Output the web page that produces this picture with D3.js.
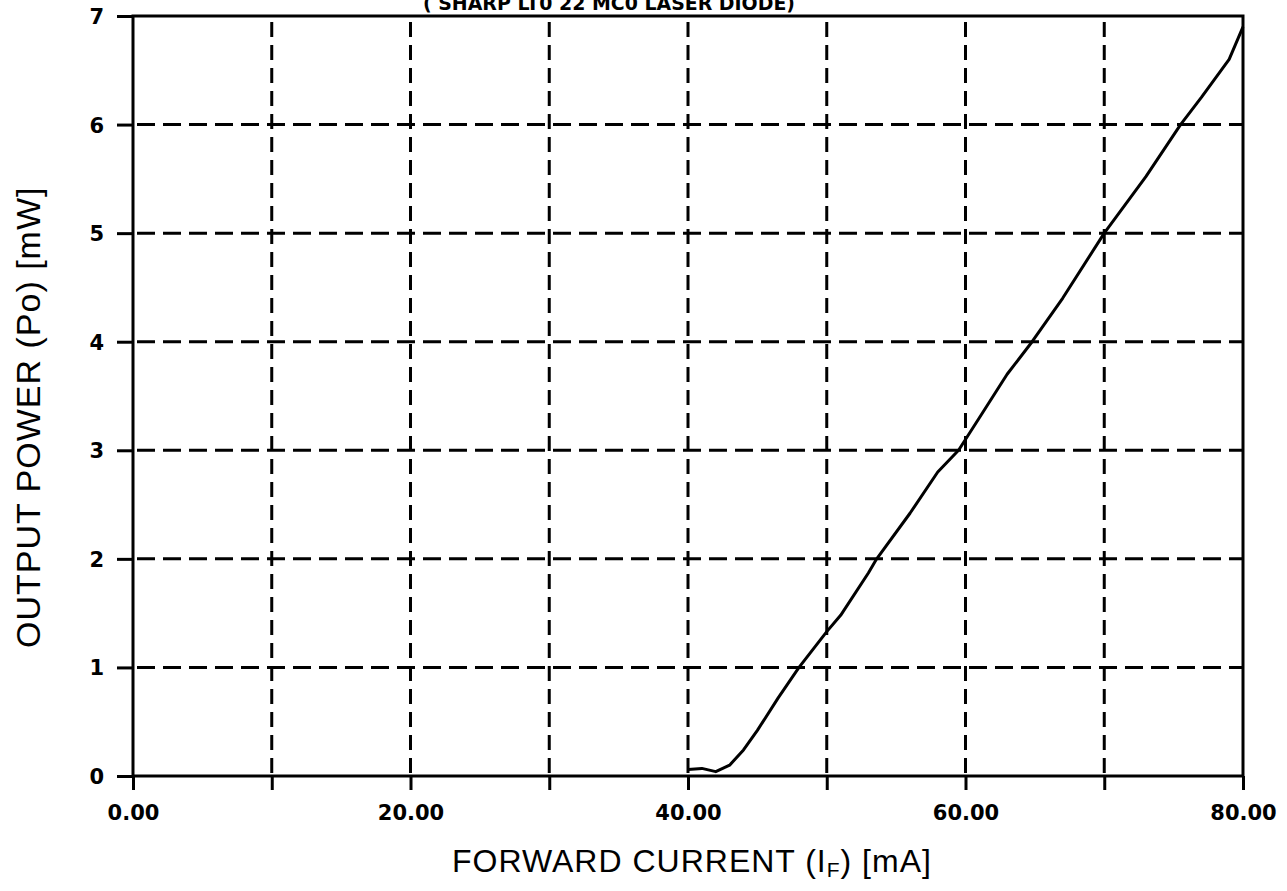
<!DOCTYPE html>
<html>
<head>
<meta charset="utf-8">
<script src="https://cdn.jsdelivr.net/npm/d3@7"></script>
<style>
  body { margin: 0; background: #fff; }
  svg { display: block; }
  text { font-family: "Liberation Sans", Arial, sans-serif; fill: #000; }
  .bold { font-family: "DejaVu Sans", sans-serif; font-weight: bold; }
</style>
</head>
<body>
<div id="chart"></div>
<script>
// laser diode curve
const currentMA = [40, 41, 42, 43, 44, 45, 46.5, 48, 50, 51, 53, 53.6, 56, 58, 59.5, 61, 63, 64.8, 67, 70, 73, 75.5, 77, 79, 80]
const powerMW = [0.06, 0.07, 0.04, 0.1, 0.24, 0.42, 0.72, 1.0, 1.33, 1.48, 1.87, 2.0, 2.42, 2.8, 3.0, 3.3, 3.7, 4.0, 4.4, 5.0, 5.52, 6.0, 6.25, 6.6, 6.9]

const xTicks = [0, 20, 40, 60, 80]
const xGrid = [10, 20, 30, 40, 50, 60, 70]
const yTicks = [0, 1, 2, 3, 4, 5, 6, 7]
const yGrid = [1, 2, 3, 4, 5, 6]

const titleText = '( SHARP LT0 22 MC0 LASER DIODE)'
const xTitle = ['FORWARD CURRENT (I', 'F', ') [mA]']
const yTitle = 'OUTPUT POWER (Po) [mW]'

const width = 1287
const height = 891
const margin = { top: 16, right: 44, bottom: 115, left: 133 }

const svg = d3.select('#chart')
  .append('svg')
  .attr('width', width)
  .attr('height', height)

const x = d3.scaleLinear()
  .domain([0, 80])
  .range([margin.left, width - margin.right])
const y = d3.scaleLinear()
  .domain([0, 7])
  .range([height - margin.bottom, margin.top])

// dashed grid
svg.append('g')
  .selectAll('line')
  .data(xGrid)
  .join('line')
  .attr('x1', d => x(d)).attr('x2', d => x(d))
  .attr('y1', y(0)).attr('y2', y(7))
  .attr('stroke', '#000')
  .attr('stroke-width', 3)
  .attr('stroke-dasharray', '15,8')
  .attr('stroke-dashoffset', -3)

svg.append('g')
  .selectAll('line')
  .data(yGrid)
  .join('line')
  .attr('x1', x(0)).attr('x2', x(80))
  .attr('y1', d => y(d)).attr('y2', d => y(d))
  .attr('stroke', '#000')
  .attr('stroke-width', 3)
  .attr('stroke-dasharray', '18,8')
  .attr('stroke-dashoffset', -4)

// axes with outward ticks
const xAxis = d3.axisBottom(x)
  .tickValues(d3.range(0, 81, 10))
  .tickSize(14)
  .tickSizeOuter(0)
  .tickFormat(d => xTicks.includes(d) ? d3.format('.2f')(d) : '')
const yAxis = d3.axisLeft(y)
  .tickValues(yTicks)
  .tickSize(16)
  .tickSizeOuter(0)
  .tickFormat(d3.format('d'))

const gx = svg.append('g')
  .attr('transform', `translate(0,${y(0)})`)
  .call(xAxis)
gx.select('.domain').remove()
gx.selectAll('line').attr('stroke-width', 3)
gx.selectAll('text')
  .attr('class', 'bold')
  .attr('y', 29)
  .style('font-size', '21px')

const gy = svg.append('g')
  .attr('transform', `translate(${x(0)},0)`)
  .call(yAxis)
gy.select('.domain').remove()
gy.selectAll('line').attr('stroke-width', 3)
gy.selectAll('text')
  .attr('class', 'bold')
  .attr('x', -29)
  .attr('dy', '0.36em')
  .style('font-size', '21px')

// frame
svg.append('rect')
  .attr('x', x(0)).attr('y', y(7))
  .attr('width', x(80) - x(0))
  .attr('height', y(0) - y(7))
  .attr('fill', 'none')
  .attr('stroke', '#000')
  .attr('stroke-width', 3)

// curve
const pts = currentMA.map((c, i) => [c, powerMW[i]])
svg.append('path')
  .datum(pts)
  .attr('fill', 'none')
  .attr('stroke', '#000')
  .attr('stroke-width', 3)
  .attr('stroke-linejoin', 'round')
  .attr('d', d3.line().x(d => x(d[0])).y(d => y(d[1])))

// title, cut off at the top edge like the scan
svg.append('text')
  .attr('class', 'bold')
  .attr('x', 423)
  .attr('y', 10)
  .attr('textLength', 372)
  .attr('lengthAdjust', 'spacingAndGlyphs')
  .style('font-size', '20px')
  .text(titleText)

// axis titles
const xt = svg.append('text')
  .attr('x', 452)
  .attr('y', 872)
  .style('font-size', '32px')
  .style('letter-spacing', '1px')
xt.append('tspan').text(xTitle[0])
xt.append('tspan').attr('dy', 5).style('font-size', '21px').text(xTitle[1])
xt.append('tspan').attr('dy', -5).text(xTitle[2])

svg.append('text')
  .attr('transform', 'translate(40,648) rotate(-90)')
  .style('font-size', '34px')
  .style('letter-spacing', '1px')
  .text(yTitle)
</script>
</body>
</html>
